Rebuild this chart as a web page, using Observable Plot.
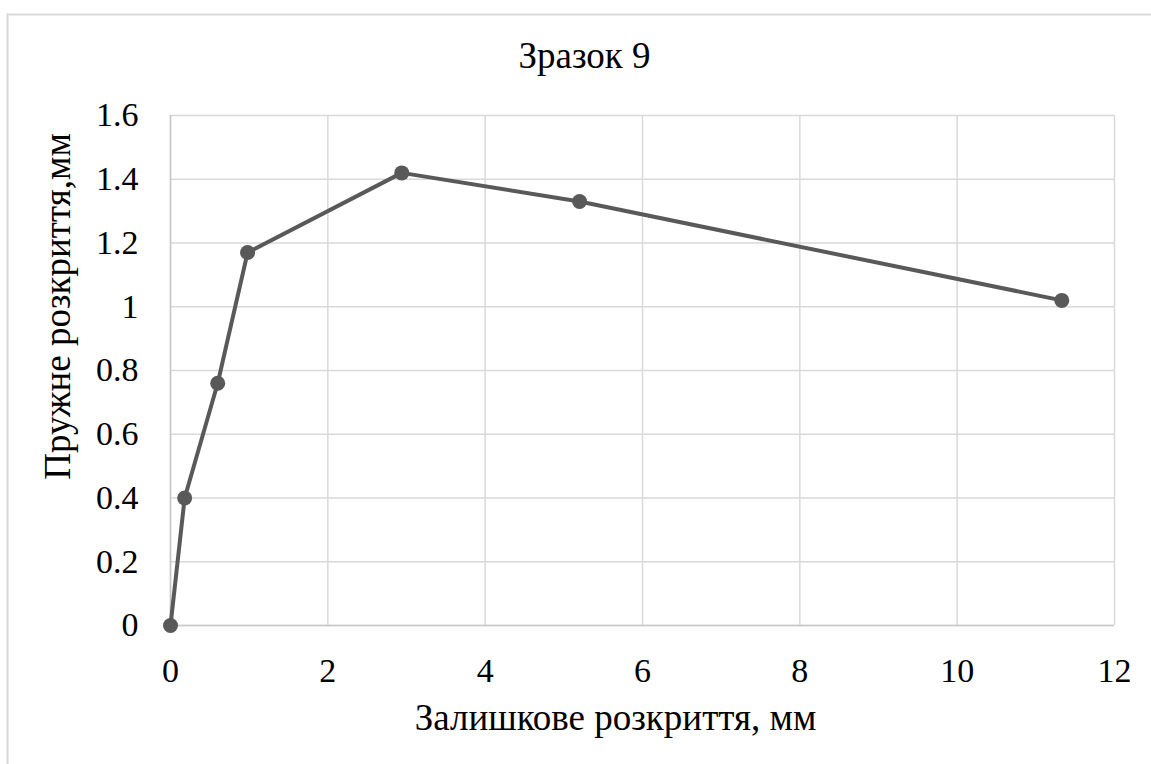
<!DOCTYPE html>
<html>
<head>
<meta charset="utf-8">
<script src="https://cdn.jsdelivr.net/npm/d3@7"></script>
<script src="https://cdn.jsdelivr.net/npm/@observablehq/plot@0.6"></script>
<style>
  html, body { margin: 0; padding: 0; background: #fff; }
  #chart svg { display: block; }
</style>
</head>
<body>
<div id="chart"></div>
<script>
const residual = [0, 0.18, 0.6, 0.98, 2.94, 5.2, 11.33];
const elastic  = [0, 0.4, 0.76, 1.17, 1.42, 1.33, 1.02];
const xTicks = [0, 2, 4, 6, 8, 10, 12];
const yTicks = [0, 0.2, 0.4, 0.6, 0.8, 1, 1.2, 1.4, 1.6];
const title = "Зразок 9";
const xLabel = "Залишкове розкриття, мм";
const yLabel = "Пружне розкриття,мм";

const data = residual.map((x, i) => ({x, y: elastic[i]}));
const font = "'Liberation Serif', 'Times New Roman', serif";
const lineColor = "#595959";
const gridColor = "#d9d9d9";

const chart = Plot.plot({
  width: 1151,
  height: 764,
  marginLeft: 170,
  marginRight: 37,
  marginTop: 115,
  marginBottom: 139,
  style: {fontFamily: font, fontSize: "34px", color: "#000", background: "#fff"},
  x: {domain: [0, 12]},
  y: {domain: [0, 1.6]},
  marks: [
    Plot.gridX(xTicks, {stroke: gridColor, strokeOpacity: 1, strokeWidth: 1.5}),
    Plot.gridY(yTicks, {stroke: gridColor, strokeOpacity: 1, strokeWidth: 1.5}),
    Plot.ruleY([0], {stroke: "#c8c8c8", strokeWidth: 1.5}),
    Plot.ruleX([0], {stroke: "#c8c8c8", strokeWidth: 1.5}),
    Plot.axisX(xTicks, {tickSize: 0, tickPadding: 32, label: null, fontSize: 34, fontFamily: font, tickFormat: d => String(d)}),
    Plot.axisY(yTicks, {tickSize: 0, tickPadding: 32, label: null, fontSize: 34, fontFamily: font, tickFormat: d => String(d)}),
    Plot.line(data, {x: "x", y: "y", stroke: lineColor, strokeWidth: 4}),
    Plot.dot(data, {x: "x", y: "y", r: 7.5, fill: lineColor, stroke: "none"}),
    Plot.text([title], {frameAnchor: "top", dx: -58, dy: -48, lineAnchor: "bottom", fontSize: 37, fontFamily: font, fill: "#000"}),
    Plot.text([xLabel], {frameAnchor: "bottom", dx: -27, dy: 104, lineAnchor: "bottom", fontSize: 37, fontFamily: font, fill: "#000"}),
    Plot.text([yLabel], {frameAnchor: "left", textAnchor: "middle", dx: -101, dy: -64, rotate: -90, lineAnchor: "bottom", fontSize: 37, fontFamily: font, fill: "#000"})
  ]
});

// outer chart border (decoration)
d3.select(chart).insert("rect", ":first-child")
  .attr("x", 7.5).attr("y", 14.5)
  .attr("width", 1200).attr("height", 800)
  .attr("fill", "none").attr("stroke", gridColor).attr("stroke-width", 2);

document.getElementById("chart").appendChild(chart);
</script>
</body>
</html>
